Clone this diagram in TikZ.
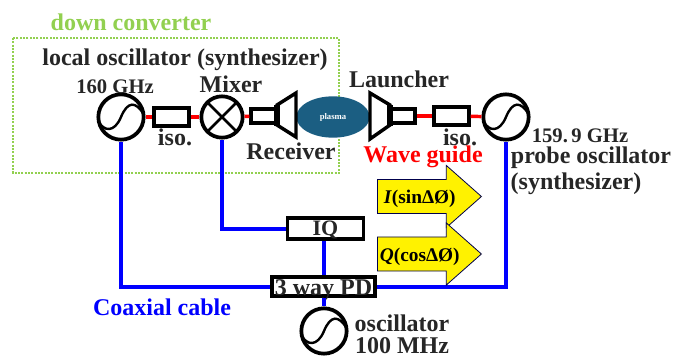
\documentclass[tikz,border=0pt]{standalone}
\usepackage{fontspec}
\setmainfont{Liberation Serif}
\usepackage{xcolor}
\usetikzlibrary{positioning,shapes.arrows,shapes.geometric}
\definecolor{dcgreen}{HTML}{92D050}
\definecolor{plasmablue}{HTML}{1B5E82}
\definecolor{wgblue}{HTML}{0000FF}

\begin{document}
\begin{tikzpicture}[x=0.75pt,y=-0.75pt,node distance = 0pt,
	lab/.style={font=\bfseries\fontsize{18}{18}\selectfont,text=black!85,inner sep=0pt},
	freq/.style={font=\bfseries\fontsize{15.5}{15.5}\selectfont,text=black!85,inner sep=0pt},
	osc/.style={circle,draw,line width=2.8pt,minimum size=34pt,inner sep=0pt,
		path picture={\draw[line width=1.8pt] ([shift={(-17pt,-3pt)}]path picture bounding box.center) .. controls +(4pt,-8pt) and +(-5pt,-12pt) .. (path picture bounding box.center) .. controls +(5pt,12pt) and +(-6pt,10pt) .. ([shift={(17pt,2pt)}]path picture bounding box.center);}},
	mix/.style={circle,draw,line width=2.8pt,minimum size=31pt,inner sep=0pt,
		path picture={\draw[line width=2pt] (path picture bounding box.north west) -- (path picture bounding box.south east) (path picture bounding box.north east) -- (path picture bounding box.south west);}},
	box/.style={draw,line width=2.8pt,fill=white,inner sep=0pt},
	txtbox/.style={box,lab,text height=13pt,text depth=0pt},
	horn/.style={draw,line width=2.6pt,line join=miter,fill=white},
	wg/.style={red,line width=2.6pt},
	cable/.style={wgblue,line width=3pt},
	iqarrow/.style={single arrow,draw=black!70!blue,fill=yellow,line width=0.6pt,anchor=tail,inner sep=0pt,
		minimum height=78pt,minimum width=45pt,single arrow head extend=10.5pt,single arrow tip angle=83,
		text height=18pt,text depth=7pt,text width=60pt,align=center,font=\bfseries\fontsize{14.5}{14.5}\selectfont}]
	\useasboundingbox (0,0) rectangle (673,356);

	\draw[dcgreen,line width=1.5pt,dash pattern=on 1.5pt off 1pt] (13,38) rectangle (339,173);
	\node[text=dcgreen,font=\bfseries\fontsize{18}{18}\selectfont,inner sep=0pt] (dc) at (131,22) {down converter};
	\node[lab] (lo) at (185,60) {local oscillator (synthesizer)};

	% top row
	\node[osc] (o1) at (121,117) {};
	\node[box,minimum width=26pt,minimum height=13.5pt] (iso1) at (171.5,117) {};
	\node[mix] (m) at (222,117) {};
	\node[box,minimum width=19pt,minimum height=10.5pt] (rs) at (264,116) {};
	\node[ellipse,fill=plasmablue,text=white,minimum width=55pt,minimum height=31pt,inner sep=0pt,font=\bfseries\fontsize{6.5}{6.5}\selectfont] (pl) at (333,117) {plasma};
	\node[box,minimum width=19pt,minimum height=10.5pt] (ls) at (402.5,116) {};
	\node[box,minimum width=26pt,minimum height=13.5pt] (iso2) at (451.5,116) {};
	\node[osc] (o2) at (506,117) {};

	\draw[horn] (277,105) -- (296,93) -- (296,137) -- (277,125) -- cycle;
	\draw[horn] (390,105) -- (370,93) -- (370,139) -- (390,125) -- cycle;
	\draw[line width=4pt] (277,105) -- (277,126);
	\draw[line width=4pt] (390,105) -- (390,126);

	\draw[wg] (o1) -- (iso1);
	\draw[wg] (iso1) -- (m);
	\draw[wg] (m) -- (rs);
	\draw[wg] (ls) -- (iso2);
	\draw[wg] (iso2) -- (o2);

	\node[freq] (f1) at (115,87) {160 GHz};
	\node[lab] (mx) at (231,84) {Mixer};
	\node[lab] (i1) at (175,137) {iso.};
	\node[lab] (rc) at (291,151) {Receiver};
	\node[lab] (ln) at (399,79) {Launcher};
	\node[lab] (i2) at (460,137) {iso.};
	\node[lab,text=red] (wgl) at (423,157) {Wave guide};
	\node[freq] (f2) at (580,136) {159.\,9 GHz};
	\node[lab] (p1) at (591,158) {probe oscillator};
	\node[lab] (p2) at (576,184) {(synthesizer)};

	% lower part
	\node[txtbox,minimum width=57pt,minimum height=15.5pt,text height=12pt,text depth=1pt,font=\bfseries\fontsize{16.5}{16.5}\selectfont] (iq) at (325.5,228.5) {IQ};
	\node[txtbox,minimum width=77pt,minimum height=14pt] (pd) at (323.5,286.5) {3 way PD};
	\node[osc] (o3) at (324,331) {};

	\draw[cable] (o1) -- (o1 |- pd) -- (pd);
	\draw[cable] (m) -- (m |- iq) -- (iq);
	\draw[cable] (iq.south -| o3) -- (o3 |- pd.north);
	\draw[cable] (pd) -- (pd -| o2) -- (o2);
	\draw[cable] (o3 |- pd.south) -- (o3);

	\node[iqarrow] (ia) at (377,196.5) {\textit{I}(sinΔØ)};
	\node[iqarrow] (qa) at (377,254) {\textit{Q}(cosΔØ)};

	\node[lab,text=wgblue] (cc) at (162,307) {Coaxial cable};
	\node[lab] (o3a) at (402,323) {oscillator};
	\node[lab] (o3b) at (402,345.5) {100 MHz};
\end{tikzpicture}
\end{document}
